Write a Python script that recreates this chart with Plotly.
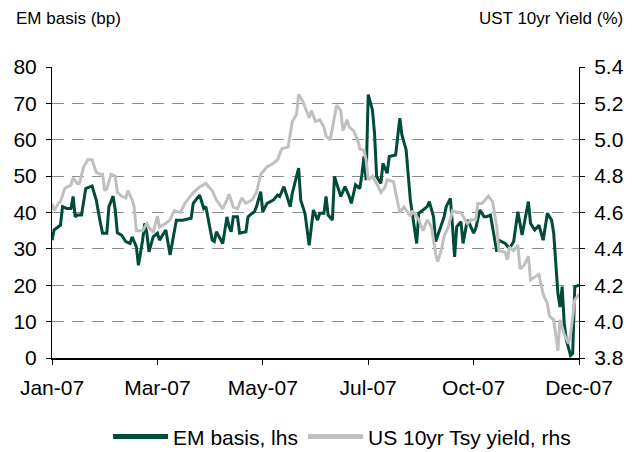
import plotly.graph_objects as go

# Observation index (business days from start of Jan-07) and values
em_obs = [0, 1, 4, 5, 7, 9, 10, 11, 12, 14, 16, 19, 21, 22, 23, 24, 26, 27, 29, 30,
          31, 33, 35, 37, 38, 40, 41, 43, 44, 45, 46, 48, 50, 51, 54, 56, 58, 59, 62, 66,
          67, 70, 72, 73, 76, 77, 78, 81, 83, 84, 85, 86, 88, 89, 92, 93, 95, 96, 97, 99,
          100, 102, 105, 107, 108, 110, 111, 113, 114, 117, 118, 120, 122, 124, 126, 127, 129, 130, 131, 133,
          134, 136, 137, 139, 141, 142, 144, 146, 147, 148, 149, 150, 152, 153, 154, 156, 157, 159, 160, 163,
          165, 166, 168, 170, 171, 173, 174, 175, 178, 179, 181, 182, 184, 186, 187, 189, 190, 191, 192, 194,
          195, 197, 198, 200, 201, 203, 205, 206, 208, 211, 212, 215, 217, 219, 221, 223, 226, 227, 229, 231,
          233, 235, 237, 238, 240, 241, 242, 243, 244, 246, 247, 248, 250]
em_basis = [32.4, 35.2, 36.5, 41.6, 41.1, 41.1, 44.4, 38.8, 39.3, 39.3, 46.6, 47.3, 43.4, 39.8, 37.0, 34.3, 34.3, 41.6, 44.5, 40.7,
            34.4, 33.8, 32.0, 31.5, 33.3, 30.6, 25.5, 32.4, 37.0, 34.3, 29.2, 33.3, 34.3, 32.4, 35.2, 28.3, 35.2, 37.9, 37.9, 38.4,
            42.5, 44.8, 41.1, 41.6, 32.4, 32.0, 34.7, 31.5, 38.8, 36.1, 34.7, 38.8, 38.8, 34.3, 34.7, 38.8, 39.8, 40.2, 41.6, 45.7,
            40.2, 42.5, 43.4, 44.8, 44.4, 47.1, 45.3, 41.6, 45.3, 52.2, 43.4, 39.8, 31.0, 40.7, 37.9, 39.8, 39.8, 44.4, 39.3, 37.9,
            49.9, 46.2, 44.4, 47.1, 44.4, 42.5, 47.6, 46.6, 50.3, 55.4, 48.9, 72.4, 68.2, 61.8, 49.9, 48.0, 53.5, 50.8, 55.4, 55.8,
            65.9, 61.3, 57.2, 43.4, 39.8, 31.5, 39.8, 40.2, 41.6, 43.0, 38.8, 32.0, 35.2, 38.8, 41.6, 43.9, 36.1, 27.8, 36.1, 37.5,
            31.5, 37.9, 37.0, 34.3, 35.6, 40.7, 38.8, 38.8, 39.3, 29.2, 32.4, 31.5, 30.1, 32.0, 40.2, 33.8, 43.0, 37.0, 35.2, 36.5,
            32.4, 39.8, 37.9, 34.3, 17.7, 14.0, 19.6, 9.5, 4.9, 0.7, 1.2, 19.6, 20.0]

ust_obs = [0, 1, 3, 4, 6, 7, 9, 10, 12, 13, 15, 17, 19, 21, 23, 24, 25, 26, 28, 30,
           31, 33, 35, 36, 38, 39, 40, 43, 45, 46, 48, 50, 51, 54, 56, 58, 61, 63, 67, 70,
           73, 76, 78, 81, 83, 84, 86, 88, 90, 92, 95, 97, 99, 102, 105, 107, 109, 112, 114, 116,
           117, 119, 122, 123, 125, 127, 129, 130, 132, 133, 135, 137, 138, 140, 141, 143, 145, 146, 148, 149,
           150, 152, 154, 156, 158, 159, 162, 163, 165, 167, 170, 171, 174, 176, 178, 180, 182, 183, 185, 186,
           188, 190, 192, 194, 197, 199, 201, 202, 204, 207, 209, 211, 212, 215, 216, 217, 219, 221, 222, 224,
           226, 227, 230, 231, 233, 235, 236, 238, 240, 241, 243, 245, 246, 248, 250]
ust_yield = [4.65, 4.61, 4.65, 4.66, 4.73, 4.74, 4.75, 4.79, 4.76, 4.76, 4.85, 4.89, 4.89, 4.82, 4.81, 4.81, 4.72, 4.73, 4.81, 4.80,
             4.71, 4.69, 4.68, 4.72, 4.67, 4.63, 4.50, 4.50, 4.54, 4.52, 4.49, 4.58, 4.52, 4.54, 4.56, 4.61, 4.60, 4.65, 4.71, 4.74,
             4.76, 4.72, 4.67, 4.62, 4.67, 4.70, 4.63, 4.62, 4.68, 4.65, 4.67, 4.71, 4.81, 4.85, 4.87, 4.89, 4.95, 4.96, 5.10, 5.14,
             5.25, 5.21, 5.12, 5.16, 5.10, 5.11, 5.07, 5.02, 5.00, 5.07, 5.19, 5.16, 5.05, 5.11, 5.07, 5.05, 5.00, 4.95, 4.94, 4.89,
             4.78, 4.80, 4.76, 4.71, 4.74, 4.78, 4.77, 4.71, 4.60, 4.63, 4.58, 4.61, 4.56, 4.50, 4.56, 4.52, 4.37, 4.33, 4.41, 4.47,
             4.52, 4.61, 4.60, 4.60, 4.54, 4.56, 4.56, 4.65, 4.65, 4.69, 4.66, 4.52, 4.39, 4.38, 4.34, 4.41, 4.39, 4.42, 4.29, 4.31,
             4.36, 4.23, 4.25, 4.26, 4.15, 4.10, 4.03, 4.01, 3.84, 4.01, 3.93, 3.88, 3.93, 4.12, 4.15]

tick_obs = [0, 50, 100, 150, 200, 250]
tick_labels = ["Jan-07", "Mar-07", "May-07", "Jul-07", "Oct-07", "Dec-07"]

FONT = "Liberation Sans, Arial, sans-serif"

fig = go.Figure()
fig.add_trace(go.Scatter(x=em_obs, y=em_basis, mode="lines", name="EM basis, lhs",
                         line=dict(color="#004B3A", width=3)))
fig.add_trace(go.Scatter(x=ust_obs, y=ust_yield, mode="lines", name="US 10yr Tsy yield, rhs",
                         line=dict(color="#C0C0C0", width=3), yaxis="y2"))
# draw EM line on top of the yield line
fig.data = (fig.data[1], fig.data[0])

# page body has an 8px margin, so the figure is sized to fit the 636x452 window
fig.update_layout(
    width=628, height=444,
    margin=dict(l=44, r=57, t=59, b=94, autoexpand=False),
    paper_bgcolor="white", plot_bgcolor="white",
    font=dict(family=FONT, size=21, color="black"),
    showlegend=True,
    legend=dict(orientation="h", xref="container", yref="container",
                x=0.532, xanchor="center", y=0.034, yanchor="middle",
                font=dict(size=21), traceorder="reversed", itemwidth=55,
                itemsizing="constant"),
    xaxis=dict(range=[0, 250], tickvals=tick_obs, ticktext=tick_labels,
               showline=True, linecolor="black", linewidth=2, ticks="outside",
               ticklen=5, tickcolor="black", showgrid=False, zeroline=False,
               ticklabelstandoff=5, automargin=False),
    yaxis=dict(range=[0, 80], dtick=10, showline=True, linecolor="black", linewidth=1,
               ticks="outside", ticklen=5, tickcolor="black",
               showgrid=True, gridcolor="#8C8C8C", griddash="12px,8px", gridwidth=1,
               zeroline=False, ticklabelstandoff=5, automargin=False),
    yaxis2=dict(range=[3.8, 5.4], dtick=0.2, tickformat=".1f", overlaying="y", side="right",
                showline=True, linecolor="black", linewidth=1, ticks="outside", ticklen=5,
                tickcolor="black", showgrid=False, zeroline=False, ticklabelstandoff=5,
                automargin=False),
    annotations=[
        dict(text="EM basis (bp)", xref="paper", yref="paper", x=-0.072, y=1.168,
             xanchor="left", yanchor="middle", showarrow=False, font=dict(size=17)),
        dict(text="UST 10yr Yield (%)", xref="paper", yref="paper", x=1.087, y=1.168,
             xanchor="right", yanchor="middle", showarrow=False, font=dict(size=17)),
    ],
)

fig.write_html("out.html")
